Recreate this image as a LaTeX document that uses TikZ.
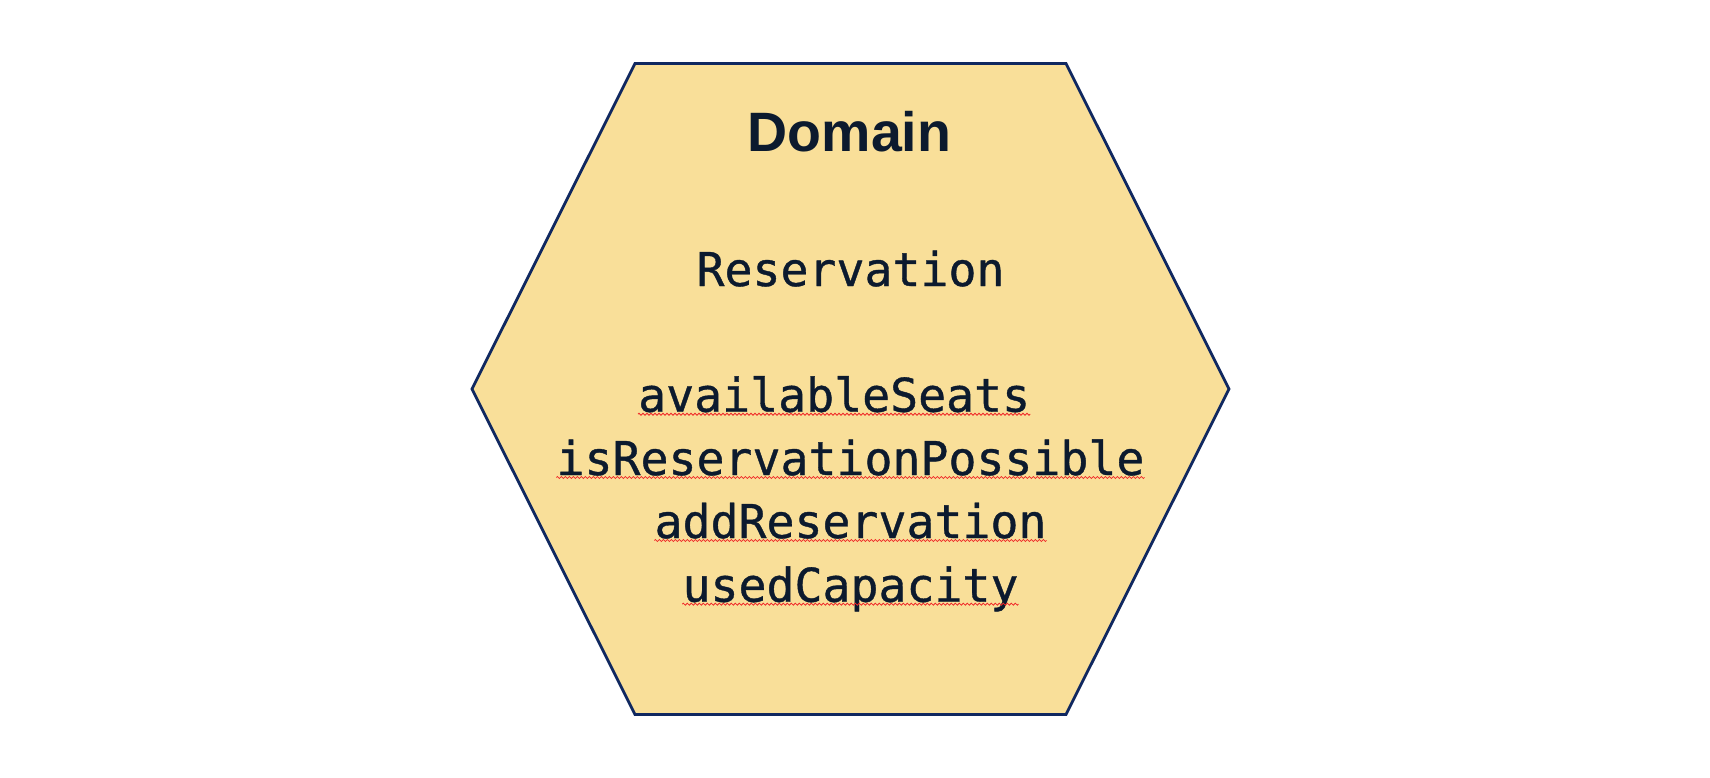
\documentclass[tikz,border=0pt]{standalone}
\usepackage{fontspec}
\setmainfont{Liberation Sans}
\newfontfamily\codefont[FakeBold=0.8]{DejaVu Sans Mono}
\usetikzlibrary{decorations.pathmorphing}
\definecolor{hexfill}{RGB}{249,223,153}
\definecolor{hexline}{RGB}{16,40,96}
\definecolor{txt}{RGB}{12,26,46}
\definecolor{spell}{RGB}{240,40,40}
\tikzset{
  titletext/.style={inner sep=0pt, anchor=base, text=txt, font=\fontsize{55.5}{60}\selectfont\bfseries},
  codetext/.style={inner sep=0pt, text=txt, font=\codefont\fontsize{46.5}{50}\selectfont},
  squiggle/.style={draw=spell, line width=0.8pt, decorate, decoration={zigzag, segment length=4pt, amplitude=1pt}},
  hexborder/.style={draw=hexline, fill=hexfill, line width=2.8pt, line join=miter}
}
\begin{document}
\begin{tikzpicture}[x=1pt,y=-1pt]
\useasboundingbox (0,0) rectangle (1710,777);
% hexagon corners
\coordinate (tl) at (635,63.5);
\coordinate (tr) at (1066,63.5);
\coordinate (r) at (1229,389);
\coordinate (br) at (1066,714.5);
\coordinate (bl) at (635,714.5);
\coordinate (l) at (472,389);
\path[hexborder] (tl) -- (tr) -- (r) -- (br) -- (bl) -- (l) -- cycle;
% texts
\node[titletext] (domain) at (849.5,151) {Domain};
\node[codetext, anchor=base] (res) at (850.5,286) {Reservation};
\node[codetext, anchor=base west] (avail) at (638,411.7) {availableSeats};
\node[codetext, anchor=base] (isres) at (850.5,475) {isReservationPossible};
\node[codetext, anchor=base] (addres) at (850.5,538) {addReservation};
\node[codetext, anchor=base] (used) at (850.5,601.7) {usedCapacity};
% spell-check underlines
\foreach \n in {avail,isres,addres,used}{
  \path[squiggle] ([yshift=-2.5pt]\n.base west) -- ([yshift=-2.5pt]\n.base east);
}
\end{tikzpicture}
\end{document}
